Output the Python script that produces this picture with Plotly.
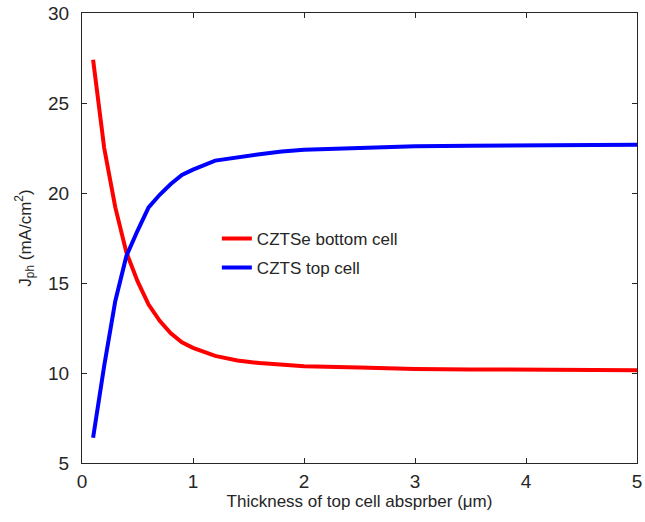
import plotly.graph_objects as go

thickness = [0.1, 0.2, 0.3, 0.4, 0.5, 0.6, 0.7, 0.8, 0.9, 1.0, 1.2, 1.4, 1.6, 1.8, 2.0, 2.5, 3.0, 3.5, 4.0, 4.5, 5.0]
czts_e_bottom = [27.4, 22.5, 19.2, 16.7, 15.1, 13.8, 12.9, 12.2, 11.7, 11.4, 10.95, 10.7, 10.55, 10.45, 10.38, 10.3, 10.22, 10.2, 10.18, 10.17, 10.15]
czts_top = [6.4, 10.4, 14.0, 16.5, 17.9, 19.2, 19.9, 20.5, 21.0, 21.3, 21.8, 22.0, 22.15, 22.3, 22.4, 22.5, 22.6, 22.62, 22.65, 22.67, 22.68]

x_ticks = [0, 1, 2, 3, 4, 5]
y_ticks = [5, 10, 15, 20, 25, 30]

fig = go.Figure()
fig.add_trace(go.Scatter(x=thickness, y=czts_e_bottom, mode="lines", name="CZTSe bottom cell",
                         legendgroup="a", line=dict(color="#ff0000", width=4)))
fig.add_trace(go.Scatter(x=thickness, y=czts_top, mode="lines", name="CZTS top cell",
                         legendgroup="b", line=dict(color="#0000ff", width=4)))

axis_common = dict(showgrid=False, zeroline=False, showline=True, linecolor="#262626", linewidth=1,
                   mirror="ticks", ticks="inside", ticklen=5, tickcolor="#262626", automargin=False,
                   tickfont=dict(family="Liberation Sans, Arial", size=19, color="#262626"))

fig.update_xaxes(range=[0, 5], tickvals=x_ticks, ticktext=[str(v) for v in x_ticks],
                 ticklabelstandoff=1,
                 title=dict(text="Thickness of top cell absprber (μm)", standoff=0,
                            font=dict(family="Liberation Sans, Arial", size=17, color="#262626")),
                 **axis_common)
fig.update_yaxes(range=[5, 30], tickvals=y_ticks, ticktext=[str(v) for v in y_ticks],
                 ticklabelstandoff=8,
                 title=dict(text="J<sub>ph</sub> (mA/cm<sup>2</sup>)", standoff=12,
                            font=dict(family="Liberation Sans, Arial", size=17, color="#262626")),
                 **axis_common)

fig.update_layout(
    width=645, height=522,
    margin=dict(l=82, r=8, t=13, b=59, autoexpand=False),
    plot_bgcolor="white", paper_bgcolor="white",
    showlegend=True,
    legend=dict(x=0.243, y=0.538, xanchor="left", yanchor="top", bgcolor="rgba(0,0,0,0)",
                traceorder="grouped", tracegroupgap=4,
                font=dict(family="Liberation Sans, Arial", size=17, color="#262626"),
                borderwidth=0),
)

fig.write_html("out.html", config={"displayModeBar": False},
               post_script="document.body.style.margin='0';")
